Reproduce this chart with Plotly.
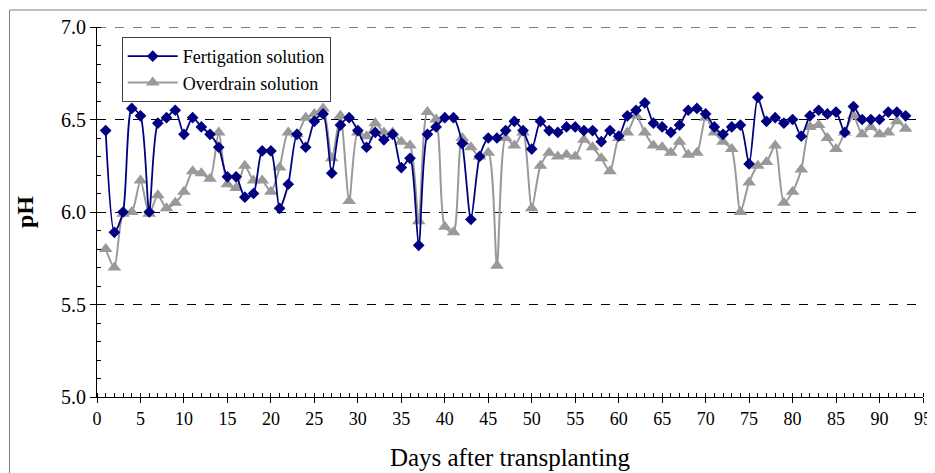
import plotly.graph_objects as go

days = list(range(1, 94))

fertigation = [
    6.44, 5.89, 6.00, 6.56, 6.52, 6.00, 6.48, 6.51, 6.55, 6.42,
    6.51, 6.46, 6.42, 6.35, 6.19, 6.19, 6.08, 6.10, 6.33, 6.33,
    6.02, 6.15, 6.42, 6.35, 6.49, 6.53, 6.21, 6.47, 6.51, 6.44,
    6.35, 6.43, 6.39, 6.42, 6.24, 6.29, 5.82, 6.42, 6.46, 6.51,
    6.51, 6.37, 5.96, 6.30, 6.40, 6.40, 6.44, 6.49, 6.44, 6.34,
    6.49, 6.44, 6.43, 6.46, 6.46, 6.44, 6.44, 6.38, 6.44, 6.41,
    6.52, 6.55, 6.59, 6.48, 6.46, 6.43, 6.47, 6.55, 6.56, 6.53,
    6.46, 6.42, 6.46, 6.47, 6.26, 6.62, 6.49, 6.51, 6.48, 6.50,
    6.41, 6.52, 6.55, 6.53, 6.54, 6.43, 6.57, 6.50, 6.50, 6.50,
    6.54, 6.54, 6.52,
]

overdrain = [
    5.80, 5.70, 5.99, 6.00, 6.17, 5.99, 6.09, 6.02, 6.05, 6.11,
    6.22, 6.21, 6.18, 6.43, 6.15, 6.13, 6.25, 6.17, 6.17, 6.11,
    6.24, 6.43, 6.42, 6.51, 6.53, 6.56, 6.29, 6.52, 6.06, 6.43,
    6.41, 6.48, 6.43, 6.43, 6.38, 6.36, 5.95, 6.54, 6.50, 5.92,
    5.89, 6.40, 6.35, 6.30, 6.32, 5.71, 6.40, 6.36, 6.43, 6.02,
    6.25, 6.32, 6.30, 6.31, 6.30, 6.39, 6.35, 6.29, 6.22, 6.40,
    6.43, 6.52, 6.43, 6.36, 6.35, 6.32, 6.38, 6.31, 6.32, 6.51,
    6.43, 6.38, 6.34, 6.00, 6.16, 6.25, 6.27, 6.36, 6.05, 6.11,
    6.23, 6.46, 6.47, 6.40, 6.34, 6.43, 6.52, 6.42, 6.46, 6.42,
    6.43, 6.49, 6.45,
]

x_ticks = list(range(0, 100, 5))
y_ticks = [5.0, 5.5, 6.0, 6.5, 7.0]

FONT = "Liberation Serif"

# page has an 8px body margin: figure is shifted by 8px, so sizes compensate
W, H = 927, 465
ML, MR, MT, MB = 89, 3, 19, 76
PW, PH = W - ML - MR, H - MT - MB

fig = go.Figure()
fig.add_trace(go.Scatter(
    x=days, y=overdrain, name="Overdrain solution", mode="lines+markers",
    line=dict(color="#999999", width=2, shape="spline", smoothing=0.7),
    marker=dict(symbol="triangle-up", size=12, color="#999999"),
))
fig.add_trace(go.Scatter(
    x=days, y=fertigation, name="Fertigation solution", mode="lines+markers",
    line=dict(color="#000080", width=1.8, shape="spline", smoothing=0.7),
    marker=dict(symbol="diamond", size=9, color="#000080"),
))

fig.update_layout(
    width=W, height=H,
    margin=dict(l=ML, r=MR, t=MT, b=MB),
    paper_bgcolor="white", plot_bgcolor="white",
    font=dict(family=FONT, size=18, color="black"),
    showlegend=True,
    legend=dict(
        x=(114 - ML) / PW, y=(MT + PH - 29) / PH, xanchor="left", yanchor="top",
        traceorder="reversed",
        bgcolor="white", bordercolor="#404040", borderwidth=1,
        font=dict(family=FONT, size=18, color="black"),
        itemwidth=50, tracegroupgap=0,
    ),
    xaxis=dict(
        range=[0, 95], tickmode="array", tickvals=x_ticks,
        ticktext=[str(v) for v in x_ticks],
        ticklabeloverflow="allow",
        showgrid=False, zeroline=False,
        showline=True, linecolor="black", linewidth=1,
        ticks="outside", ticklen=5, tickcolor="black",
        minor=dict(dtick=1, ticks="inside", ticklen=4, tickcolor="black", showgrid=False),
        tickfont=dict(family=FONT, size=18),
        title=dict(text="Days after transplanting", font=dict(family=FONT, size=25), standoff=20),
    ),
    yaxis=dict(
        range=[5.0, 7.0], tickmode="array", tickvals=y_ticks,
        ticktext=["%.1f" % v for v in y_ticks],
        showgrid=True, gridcolor="black", gridwidth=1, griddash="dash",
        zeroline=False,
        showline=True, linecolor="black", linewidth=1,
        ticks="outside", ticklen=6, tickcolor="black",
        minor=dict(dtick=0.1, ticks="inside", ticklen=4, tickcolor="black", showgrid=False),
        tickfont=dict(family=FONT, size=20),
        title=dict(text="<b>pH</b>", font=dict(family=FONT, size=24), standoff=20),
    ),
    shapes=[
        dict(type="line", xref="paper", yref="y", x0=0, x1=1, y0=7.0, y1=7.0,
             line=dict(color="black", width=1, dash="dash"), layer="below"),
        dict(type="line", xref="paper", yref="paper",
             x0=(0.5 - ML) / PW, x1=(0.5 - ML) / PW, y0=(MT + PH - 2) / PH, y1=-1,
             line=dict(color="#808080", width=1)),
        dict(type="line", xref="paper", yref="paper",
             x0=(0.5 - ML) / PW, x1=1.5, y0=(MT + PH - 2) / PH, y1=(MT + PH - 2) / PH,
             line=dict(color="#808080", width=1)),
    ],
)

fig.write_html("out.html")
